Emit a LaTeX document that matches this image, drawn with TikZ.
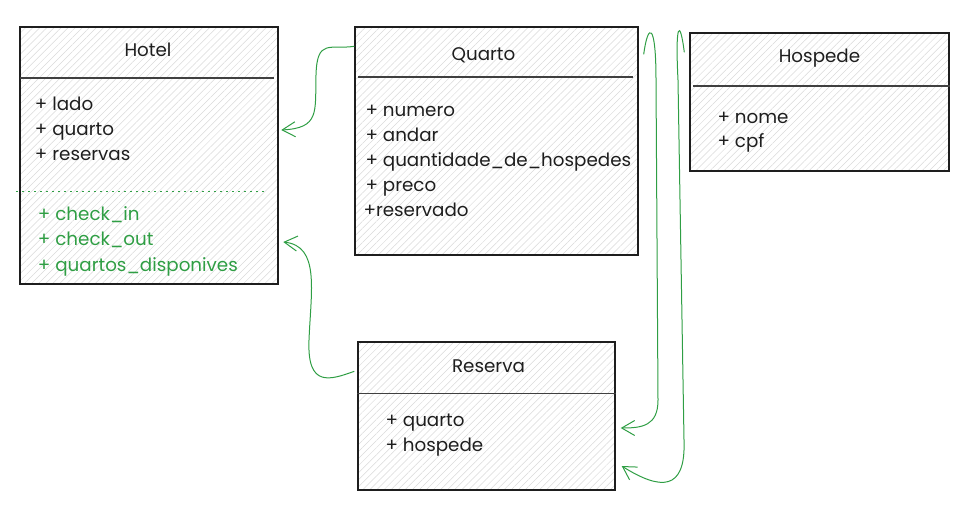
\documentclass[tikz,border=0pt]{standalone}
\usepackage{fontspec}
\setmainfont{Poppins}
\usepackage{tikz}
\usetikzlibrary{patterns.meta,arrows.meta}
\definecolor{verde}{RGB}{47,158,68}
\definecolor{tinta}{RGB}{30,30,30}

\begin{document}
\begin{tikzpicture}[x=1pt,y=-1pt,
  classe/.style 2 args={draw=tinta, line width=1.4pt, inner sep=0pt,
    minimum width=#1, minimum height=#2,
    pattern={Lines[angle=45,distance=5pt,line width=0.5pt]}, pattern color=gray!30},
  divisoria/.style={draw=tinta!85, line width=1.6pt},
  titulo/.style={anchor=base, inner sep=0pt, font=\fontsize{18.3}{22}\selectfont, text=tinta},
  attr/.style={anchor=base west, inner sep=0pt, font=\fontsize{18.3}{22}\selectfont, text=tinta},
  metodo/.style={attr, text=verde},
  ligacao/.style={draw=verde, line width=1pt, -{Straight Barb[length=13pt,width=15pt]}}]
\useasboundingbox (0,0) rectangle (968,513);

\node[classe={258pt}{257pt}] (hotel) at (149,155.5) {};
\node[classe={283pt}{228pt}] (quarto) at (496.5,141) {};
\node[classe={259pt}{138pt}] (hospede) at (819.5,102) {};
\node[classe={257pt}{148pt}] (reserva) at (486.5,416) {};

\draw[divisoria] ([shift={(0,51)}]hotel.north west) -- ([shift={(-4,51)}]hotel.north east);
\draw[divisoria] ([shift={(4,51)}]quarto.north west) -- ([shift={(-6,51)}]quarto.north east);
\draw[divisoria] ([shift={(4,54)}]hospede.north west) -- ([shift={(0,54)}]hospede.north east);
\draw[divisoria] ([shift={(0,52)}]reserva.north west) -- ([shift={(0,52)}]reserva.north east);
\draw[verde, line width=1.1pt, dash pattern=on 2pt off 4pt] ([shift={(-4,165)}]hotel.north west) -- ([shift={(-11,165)}]hotel.north east);

\node[titulo] (hotel-t) at ([shift={(-1,30)}]hotel.north) {Hotel};
\node[titulo] (quarto-t) at ([shift={(-13,34)}]quarto.north) {Quarto};
\node[titulo] (hospede-t) at ([shift={(0,30)}]hospede.north) {Hospede};
\node[titulo] (reserva-t) at ([shift={(2,31)}]reserva.north) {Reserva};

\foreach \txt [count=\i] in {lado,quarto,reservas}
  \node[attr] (hotel-a\i) at ([shift={(15,59+25*\i)}]hotel.north west) {+\ \txt};
\foreach \txt [count=\i] in {check\_in,check\_out,quartos\_disponives}
  \node[metodo] (hotel-m\i) at ([shift={(18,168+25.5*\i)}]hotel.north west) {+\ \txt};
\foreach \txt [count=\i] in {numero,andar,quantidade\_de\_hospedes,preco}
  \node[attr] (quarto-a\i) at ([shift={(11,65+25*\i)}]quarto.north west) {+\ \txt};
\node[attr] (quarto-a5) at ([shift={(9,190)}]quarto.north west) {+reservado};
\foreach \txt [count=\i] in {nome,cpf}
  \node[attr] (hospede-a\i) at ([shift={(28,67+24*\i)}]hospede.north west) {+\ \txt};
\foreach \txt [count=\i] in {quarto,hospede}
  \node[attr] (reserva-a\i) at ([shift={(28,60+25*\i)}]reserva.north west) {+\ \txt};

\draw[ligacao] ([shift={(0,20)}]quarto.north west) .. controls (330,50) and (317,38) .. (316,75)
  .. controls (315,112) and (320,128) .. ([shift={(3,-25.5)}]hotel.east);
\draw[ligacao] ([shift={(-3,30)}]reserva.north west) .. controls (330,380) and (307,388) .. (309,340)
  .. controls (311,290) and (320,246) .. ([shift={(5,86.5)}]hotel.east);
\draw[ligacao] ([shift={(5,28)}]quarto.north east) .. controls (648,22) and (656,22) .. (656,80)
  -- (658,400) .. controls (658,426) and (642,428) .. ([shift={(5,12)}]reserva.east);
\draw[ligacao] ([shift={(-5,20)}]hospede.north west) .. controls (680,18) and (675,22) .. (678,80)
  -- (684,440) .. controls (686,492) and (660,490) .. ([shift={(6,50)}]reserva.east);
\end{tikzpicture}
\end{document}
